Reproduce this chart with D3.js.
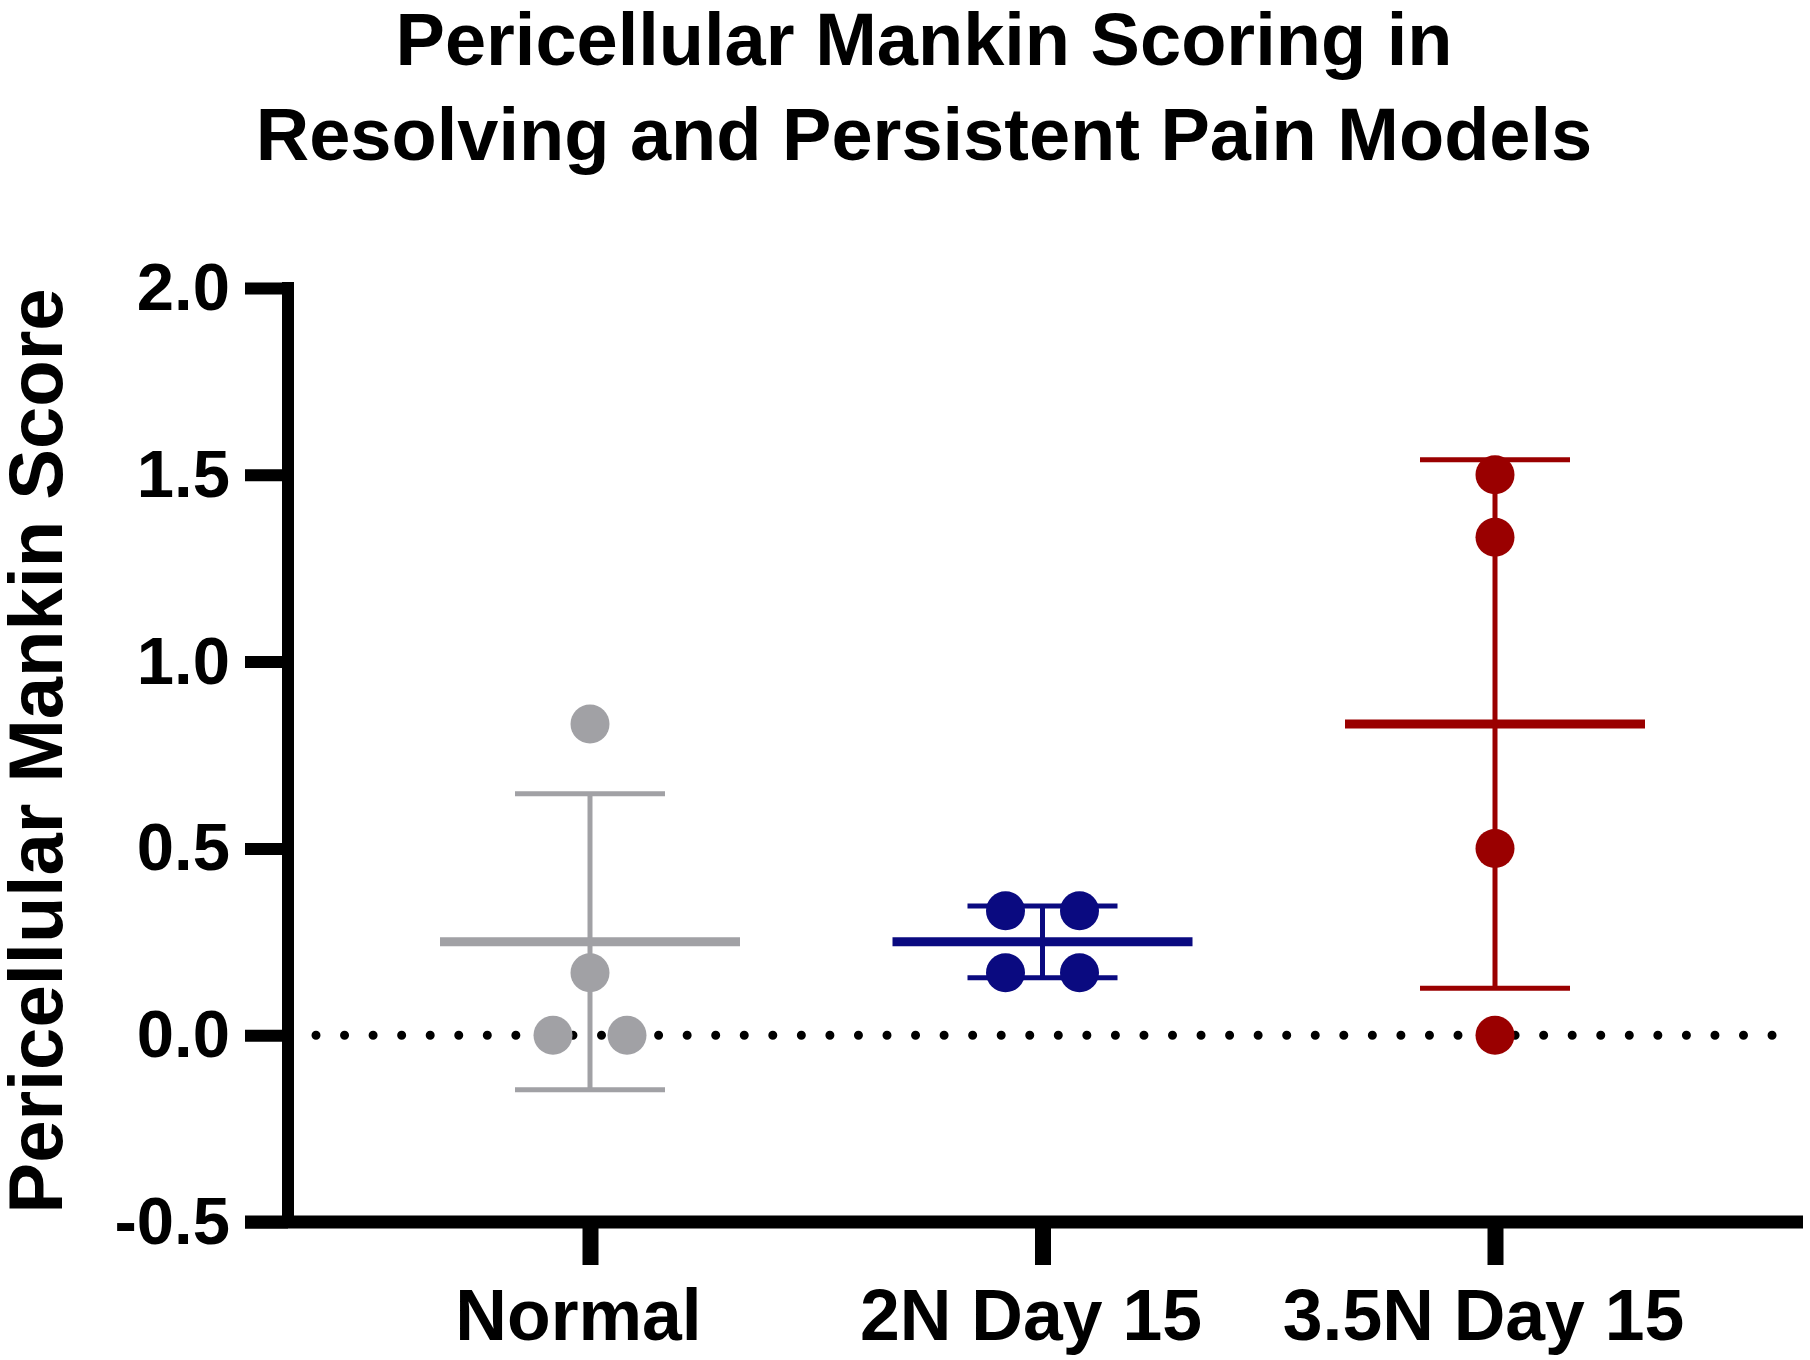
<!DOCTYPE html>
<html>
<head>
<meta charset="utf-8">
<script src="https://cdn.jsdelivr.net/npm/d3@7"></script>
<style>
  html, body { margin: 0; padding: 0; background: #fff; }
  svg { display: block; }
  text { font-family: "Liberation Sans", Arial, Helvetica, sans-serif; font-weight: bold; fill: #000; }
</style>
</head>
<body>
<svg id="chart" width="1810" height="1360"></svg>
<script>
// ---- Data ----
const categories = ["Normal", "2N Day 15", "3.5N Day 15"];
const normalValues = [0.833, 0.167, 0, 0];
const twoNValues = [0.333, 0.333, 0.167, 0.167];
const threeFiveNValues = [1.5, 1.333, 0.5, 0];
const groupMeans = [0.25, 0.25, 0.833];
const groupSD = [0.396, 0.096, 0.707];
const groupColors = ["#a1a1a5", "#0a0a80", "#9a0000"];
const yTickValues = [-0.5, 0, 0.5, 1.0, 1.5, 2.0];
const yTickLabels = ["-0.5", "0.0", "0.5", "1.0", "1.5", "2.0"];
const titleLines = ["Pericellular Mankin Scoring in", "Resolving and Persistent Pain Models"];
const yAxisTitle = "Pericellular Mankin Score";

const groupValues = [normalValues, twoNValues, threeFiveNValues];

// ---- Layout ----
const svg = d3.select("#chart");
const axisX = 288, axisY = 1222;
const y = d3.scaleLinear().domain([-0.5, 2.0]).range([1222, 288]);
const x = d3.scalePoint().domain(categories).range([590, 1495]);

// Title
svg.append("g").selectAll("text").data(titleLines).join("text")
  .attr("x", 924).attr("y", (d, i) => 65 + i * 95)
  .attr("text-anchor", "middle").attr("font-size", 74)
  .text(d => d);

// Y axis title
svg.append("text")
  .attr("transform", `translate(62, 751) rotate(-90)`)
  .attr("text-anchor", "middle").attr("font-size", 76)
  .text(yAxisTitle);

// Zero reference dotted line
svg.append("line")
  .attr("x1", 316).attr("x2", 1775)
  .attr("y1", y(0)).attr("y2", y(0))
  .attr("stroke", "#000").attr("stroke-width", 9)
  .attr("stroke-linecap", "round").attr("stroke-dasharray", "0,28.55");

// Y axis
const yAxis = d3.axisLeft(y).tickValues(yTickValues)
  .tickFormat((d, i) => yTickLabels[i]).tickSize(43).tickPadding(15).tickSizeOuter(0);
const gy = svg.append("g").attr("transform", `translate(${axisX},0)`).call(yAxis);
gy.select(".domain").remove();
gy.selectAll(".tick line").attr("stroke", "#000").attr("stroke-width", 12);
gy.selectAll(".tick text").attr("font-size", 67).attr("fill", "#000")
  .style("font-family", '"Liberation Sans", Arial, sans-serif').style("font-weight", "bold");
svg.append("line").attr("x1", axisX).attr("x2", axisX)
  .attr("y1", y(2.0) - 6).attr("y2", y(-0.5) + 6)
  .attr("stroke", "#000").attr("stroke-width", 12);

// X axis
const xAxis = d3.axisBottom(x).tickSize(43).tickPadding(24).tickSizeOuter(0);
const gx = svg.append("g").attr("transform", `translate(0,${axisY})`).call(xAxis);
gx.select(".domain").remove();
gx.selectAll(".tick line").attr("stroke", "#000").attr("stroke-width", 16);
gx.selectAll(".tick text").attr("font-size", 71.5).attr("fill", "#000").attr("dx", -12)
  .style("font-family", '"Liberation Sans", Arial, sans-serif').style("font-weight", "bold");
svg.append("line").attr("x1", 245).attr("x2", 1803)
  .attr("y1", axisY).attr("y2", axisY)
  .attr("stroke", "#000").attr("stroke-width", 13);

// Error bars + mean lines
const gE = svg.append("g");
categories.forEach((c, i) => {
  const cx = x(c), col = groupColors[i];
  const m = groupMeans[i], sd = groupSD[i];
  gE.append("line").attr("x1", cx).attr("x2", cx)
    .attr("y1", y(m + sd)).attr("y2", y(m - sd))
    .attr("stroke", col).attr("stroke-width", 5);
  [m + sd, m - sd].forEach(v => {
    gE.append("line").attr("x1", cx - 75).attr("x2", cx + 75)
      .attr("y1", y(v)).attr("y2", y(v))
      .attr("stroke", col).attr("stroke-width", 5);
  });
  gE.append("line").attr("x1", cx - 150).attr("x2", cx + 150)
    .attr("y1", y(m)).attr("y2", y(m))
    .attr("stroke", col).attr("stroke-width", 9);
});

// Points (identical values spread side by side)
const pts = [];
categories.forEach((c, i) => {
  const vals = groupValues[i];
  const counts = d3.rollup(vals, v => v.length, d => d);
  const seen = new Map();
  vals.forEach(v => {
    const n = counts.get(v), k = seen.get(v) || 0;
    seen.set(v, k + 1);
    pts.push({ c, v, off: (k - (n - 1) / 2) * 74, col: groupColors[i] });
  });
});
svg.append("g").selectAll("circle").data(pts).join("circle")
  .attr("cx", d => x(d.c) + d.off).attr("cy", d => y(d.v))
  .attr("r", 19.5).attr("fill", d => d.col);
</script>
</body>
</html>
